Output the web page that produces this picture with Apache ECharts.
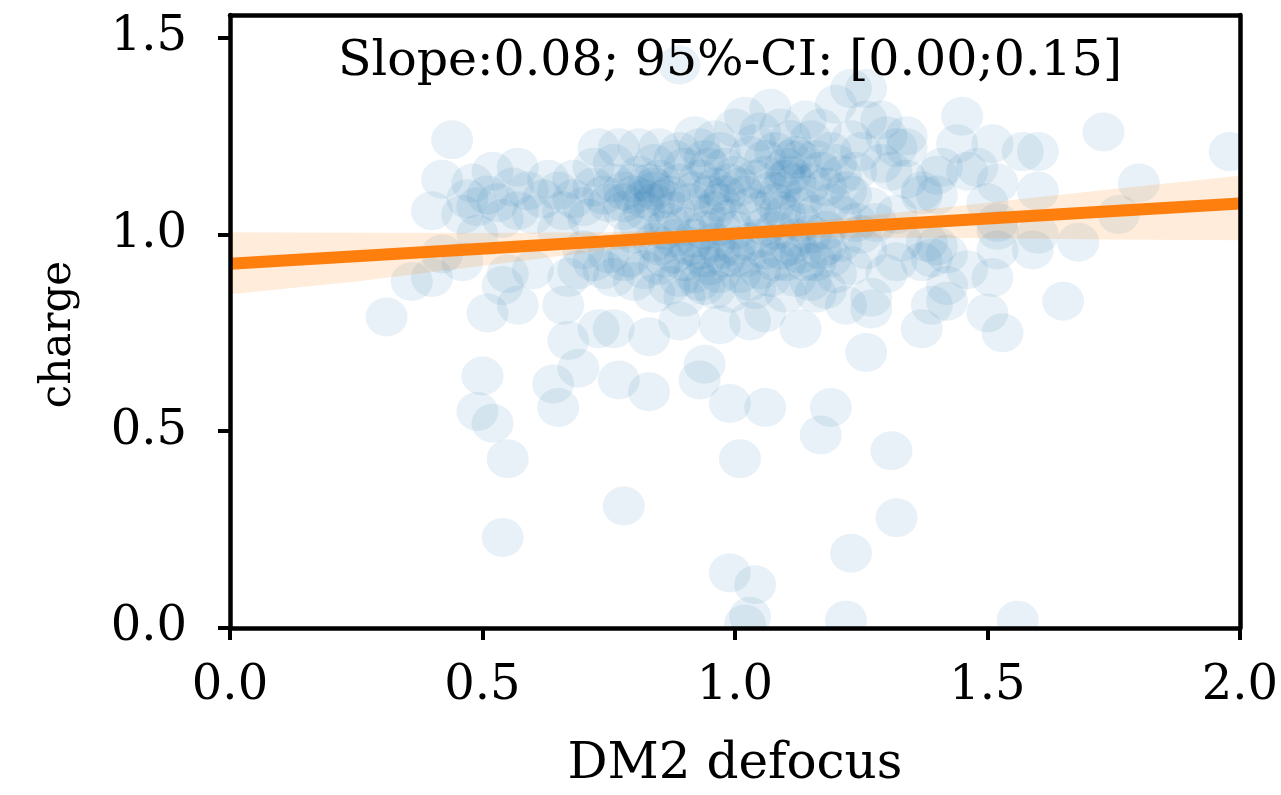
<!DOCTYPE html>
<html>
<head>
<meta charset="utf-8">
<script src="https://cdn.jsdelivr.net/npm/echarts@6/dist/echarts.min.js"></script>
<style>
  html, body { margin: 0; padding: 0; background: #fff; }
  #chart { width: 1281px; height: 795px; }
</style>
</head>
<body>
<div id="chart"></div>
<script>
// scatter points (DM2 defocus, charge)
const defocus = [
  0.31, 0.36, 0.40, 0.42, 0.44,
  0.50, 0.49, 0.52, 0.55, 0.54, 0.51, 0.57, 0.66, 0.67, 0.64, 0.65,
  0.69, 0.73, 0.76, 0.83, 0.77, 0.83, 0.89, 0.94, 0.93, 0.99, 1.06, 1.01,
  0.78, 0.99, 1.04, 1.02, 1.03,
  1.19, 1.17, 1.26, 1.31, 1.32, 1.23, 1.22,
  1.13, 0.97, 1.03, 1.06, 1.22, 1.27,
  1.65, 1.37, 1.39, 1.42, 1.50, 1.53, 1.56,
  1.51, 1.42, 1.27, 1.32, 1.37, 1.42, 1.52, 1.59,
  1.73, 1.98, 1.80, 1.76, 1.68, 1.60, 1.60, 1.60,
  1.45, 1.51, 1.57, 1.44, 1.52, 1.50, 1.52, 1.46, 1.46, 1.40, 1.37, 1.34, 1.32, 1.38, 1.40,
  1.48, 1.41, 1.34, 1.30, 1.26, 1.23, 1.26, 1.29, 1.40, 1.37, 1.52, 1.33, 1.39,
  0.89,
  0.52, 0.57, 0.47, 0.49, 0.46, 0.53, 0.57, 0.60, 0.63, 0.65, 0.68, 0.73, 0.72, 0.76, 0.75, 0.78,
  0.40, 0.42, 0.46, 0.49, 0.55, 0.54, 0.60, 0.69, 0.67, 0.74, 0.76, 0.65, 0.71,
  1.07, 1.02, 1.14, 1.20, 1.00, 1.05, 1.11, 1.17,
  0.93, 0.89, 0.85, 0.81, 0.77, 0.97, 1.03, 1.08, 1.13, 1.19,
  0.81, 0.84, 0.90, 0.95, 1.00, 1.06, 1.11, 1.17, 1.21,
  0.78, 0.84, 0.88, 0.92, 0.97, 1.02, 1.08, 1.14, 1.19,
  0.81, 0.87, 0.94, 0.99, 1.05, 1.10, 1.16, 1.21,
  0.79, 0.86, 0.93, 1.00, 1.06, 1.13, 1.19,
  0.90, 0.94, 0.99, 1.10, 0.84, 0.87, 1.03, 0.80, 1.16,
  0.85, 0.90, 0.98, 1.10, 1.16,
  1.29, 1.31, 1.34, 1.32, 1.25, 1.28, 1.23, 1.26, 1.23, 1.30,
  0.82, 0.84, 0.83, 0.86, 0.80, 0.96, 0.98, 0.99, 0.95, 1.10, 1.12, 1.09, 1.11,
  0.97, 1.00, 0.96, 1.03, 1.12, 1.15, 0.92, 0.88, 0.84, 1.08,
  0.92, 0.95, 1.05, 1.09, 1.18, 1.20, 0.97,
  0.82, 0.85, 0.87, 0.89, 0.91, 0.93, 0.94, 0.96, 0.98, 1.01, 1.03, 1.04, 1.06, 1.07, 1.09, 1.10,
  1.12, 1.13, 1.15, 1.16, 1.18, 1.20, 1.22, 1.24,
  0.80, 0.78, 0.76, 0.74, 0.72, 0.70, 0.68, 0.66, 0.62, 0.59, 0.56, 0.54, 0.51, 0.48,
  0.85, 0.88, 0.91, 0.94, 0.97, 1.00, 1.02, 1.05, 1.08, 1.11, 1.14, 1.17, 1.21,
  0.89, 0.93, 0.96, 1.01, 1.04, 1.07, 1.12, 1.15, 1.18, 0.82, 0.78, 0.75, 0.72, 0.70,
  0.80, 0.86, 0.90, 0.94, 1.06, 1.13, 1.18, 1.24, 1.27,
  0.84, 0.88, 0.92, 0.96, 1.04, 1.09, 1.15, 1.23, 1.25
];
const charge = [
  0.79, 0.88, 1.06, 1.14, 1.24,
  0.64, 0.55, 0.52, 0.43, 0.23, 0.80, 0.82, 0.82, 0.73, 0.62, 0.56,
  0.66, 0.76, 0.76, 0.74, 0.63, 0.60, 0.78, 0.67, 0.63, 0.57, 0.56, 0.43,
  0.31, 0.14, 0.11, 0.01, 0.03,
  0.56, 0.49, 0.70, 0.45, 0.28, 0.19, 0.02,
  0.76, 0.77, 0.78, 0.80, 0.82, 0.81,
  0.83, 0.76, 0.82, 0.83, 0.80, 0.75, 0.02,
  0.89, 0.87, 0.84, 0.93, 0.93, 0.95, 0.96, 0.96,
  1.26, 1.21, 1.13, 1.05, 0.98, 1.21, 1.11, 1.00,
  1.30, 1.23, 1.21, 1.23, 1.13, 1.08, 1.01, 0.91, 1.16, 1.15, 1.10, 1.22, 1.22, 0.98, 0.97,
  1.17, 1.17, 1.25, 1.25, 1.37, 1.37, 1.29, 1.29, 1.10, 1.11, 1.03, 0.98, 0.94,
  1.43,
  1.16, 1.17, 1.09, 1.07, 1.05, 1.08, 1.06, 1.05, 1.14, 1.11, 1.09, 1.22, 1.17, 1.18, 1.08, 1.06,
  0.89, 0.95, 0.93, 1.00, 0.90, 0.87, 0.91, 0.91, 0.89, 0.91, 0.89, 1.01, 1.04,
  1.32, 1.30, 1.29, 1.33, 1.27, 1.26, 1.24, 1.27,
  1.22, 1.21, 1.22, 1.22, 1.22, 1.21, 1.20, 1.21, 1.19, 1.21,
  1.15, 1.12, 1.17, 1.17, 1.15, 1.15, 1.15, 1.16, 1.15,
  1.08, 1.08, 1.06, 1.11, 1.08, 1.10, 1.08, 1.10, 1.08,
  1.03, 1.03, 1.05, 1.04, 1.06, 1.05, 1.05, 1.05,
  0.94, 0.94, 0.96, 0.94, 0.96, 0.95, 0.94,
  0.84, 0.87, 0.85, 0.85, 0.85, 0.87, 0.88, 0.88, 0.85,
  0.92, 0.93, 0.94, 0.93, 0.93,
  1.18, 1.16, 1.14, 1.05, 1.00, 1.03, 1.10, 0.96, 0.92, 0.90,
  1.09, 1.11, 1.13, 1.09, 1.10, 1.12, 1.10, 1.13, 1.10, 1.17, 1.13, 1.11, 1.19,
  1.02, 1.01, 0.98, 0.98, 0.99, 1.00, 0.99, 0.99, 0.98, 1.01,
  0.90, 0.92, 0.91, 0.96, 0.97, 0.90, 0.90,
  1.06, 1.14, 1.10, 1.13, 1.08, 1.14, 1.19, 1.06, 1.17, 1.12, 1.07, 1.14, 1.19, 1.11, 1.06, 1.14,
  1.20, 1.07, 1.13, 1.19, 1.12, 1.18, 1.11, 1.16,
  1.13, 1.11, 1.13, 1.10, 1.12, 1.07, 1.14, 1.06, 1.09, 1.11, 1.12, 1.04, 1.10, 1.13,
  0.97, 0.95, 0.97, 0.94, 0.96, 0.97, 0.94, 0.99, 0.93, 0.97, 0.93, 0.96, 0.98,
  0.89, 0.88, 0.86, 0.90, 0.86, 0.89, 0.89, 0.88, 0.86, 0.91, 0.93, 0.95, 0.93, 0.96,
  1.00, 1.01, 1.02, 1.01, 1.02, 1.03, 1.01, 1.03, 1.07,
  1.18, 1.19, 1.25, 1.24, 1.23, 1.27, 1.24, 1.24, 1.21
];

// regression line and its 95% band
const regX = [0, 2];
const regY = [0.925, 1.078];
const bandX = [0, 0.25, 0.5, 0.75, 1.0, 1.25, 1.5, 1.75, 2.0];
const bandLow = [0.848, 0.880, 0.920, 0.960, 0.988, 0.992, 0.990, 0.987, 0.985];
const bandHigh = [1.005, 1.004, 1.003, 1.005, 1.015, 1.045, 1.080, 1.115, 1.149];

const xTicks = [0, 0.5, 1.0, 1.5, 2.0];
const yTicks = [0, 0.5, 1.0, 1.5];

const font = 'DejaVu Serif';
const spine = { show: true, onZero: false, lineStyle: { color: '#000', width: 4.5 } };
const tick = { show: true, length: 12, lineStyle: { color: '#000', width: 4 } };
const chart = echarts.init(document.getElementById('chart'));

const points = defocus.map((x, i) => [x, charge[i]]);
const band = bandX.map((x, i) => [x, bandLow[i], bandHigh[i]]);

chart.setOption({
  animation: false,
  backgroundColor: '#fff',
  grid: { left: 230, right: 38, top: 15, bottom: 165 },
  xAxis: [{
    type: 'value', min: 0, max: 2, interval: 0.5, z: 10,
    name: 'DM2 defocus', nameLocation: 'middle', nameGap: 112,
    nameTextStyle: { fontFamily: font, fontSize: 50, color: '#000' },
    axisLine: spine,
    splitLine: { show: false },
    axisTick: Object.assign({ customValues: xTicks }, tick),
    axisLabel: { fontFamily: font, fontSize: 48, color: '#000', margin: 35,
      customValues: xTicks, formatter: v => v.toFixed(1) }
  }, {
    type: 'value', position: 'top', min: 0, max: 2, z: 10,
    axisLine: spine, axisTick: { show: false }, axisLabel: { show: false }, splitLine: { show: false }
  }],
  yAxis: [{
    type: 'value', min: 0, max: 1.557, interval: 0.5, z: 10,
    name: 'charge', nameLocation: 'middle', nameGap: 150, nameRotate: 90,
    nameTextStyle: { fontFamily: font, fontSize: 42, color: '#000', padding: [0, 26, 0, 0] },
    axisLine: spine,
    splitLine: { show: false },
    axisTick: Object.assign({ customValues: yTicks }, tick),
    axisLabel: { fontFamily: font, fontSize: 48, color: '#000', margin: 43,
      customValues: yTicks, formatter: v => v.toFixed(1) }
  }, {
    type: 'value', position: 'right', min: 0, max: 1.557, z: 10,
    axisLine: spine, axisTick: { show: false }, axisLabel: { show: false }, splitLine: { show: false }
  }],
  graphic: [{
    type: 'text', x: 730, y: 62, z: 100,
    style: { text: 'Slope:0.08; 95%-CI: [0.00;0.15]', fontFamily: font, fontSize: 49,
      fill: '#000', textAlign: 'center', textVerticalAlign: 'middle' }
  }],
  series: [
    {
      type: 'custom', name: 'points', z: 2, clip: true,
      data: points,
      encode: { x: 0, y: 1 },
      renderItem: (params, api) => {
        const c = api.coord([api.value(0), api.value(1)]);
        return {
          type: 'circle', x: c[0], y: c[1], scaleX: 21 / 19.5,
          shape: { cx: 0, cy: 0, r: 19.5 },
          style: { fill: 'rgba(31,119,180,0.1)' }
        };
      }
    },
    {
      type: 'custom', name: 'ci', z: 3, clip: true,
      data: band,
      encode: { x: 0, y: [1, 2] },
      renderItem: (params, api) => {
        if (params.dataIndex !== 0) return null;
        const pts = [];
        bandX.forEach((x, i) => pts.push(api.coord([x, bandLow[i]])));
        for (let i = bandX.length - 1; i >= 0; i--) pts.push(api.coord([bandX[i], bandHigh[i]]));
        return { type: 'polygon', shape: { points: pts }, style: { fill: 'rgba(255,127,14,0.15)' } };
      }
    },
    {
      type: 'line', name: 'fit', z: 4,
      data: regX.map((x, i) => [x, regY[i]]),
      showSymbol: false, symbol: 'none',
      lineStyle: { color: '#ff7f0e', width: 12, cap: 'butt' }
    }
  ]
});
</script>
</body>
</html>
